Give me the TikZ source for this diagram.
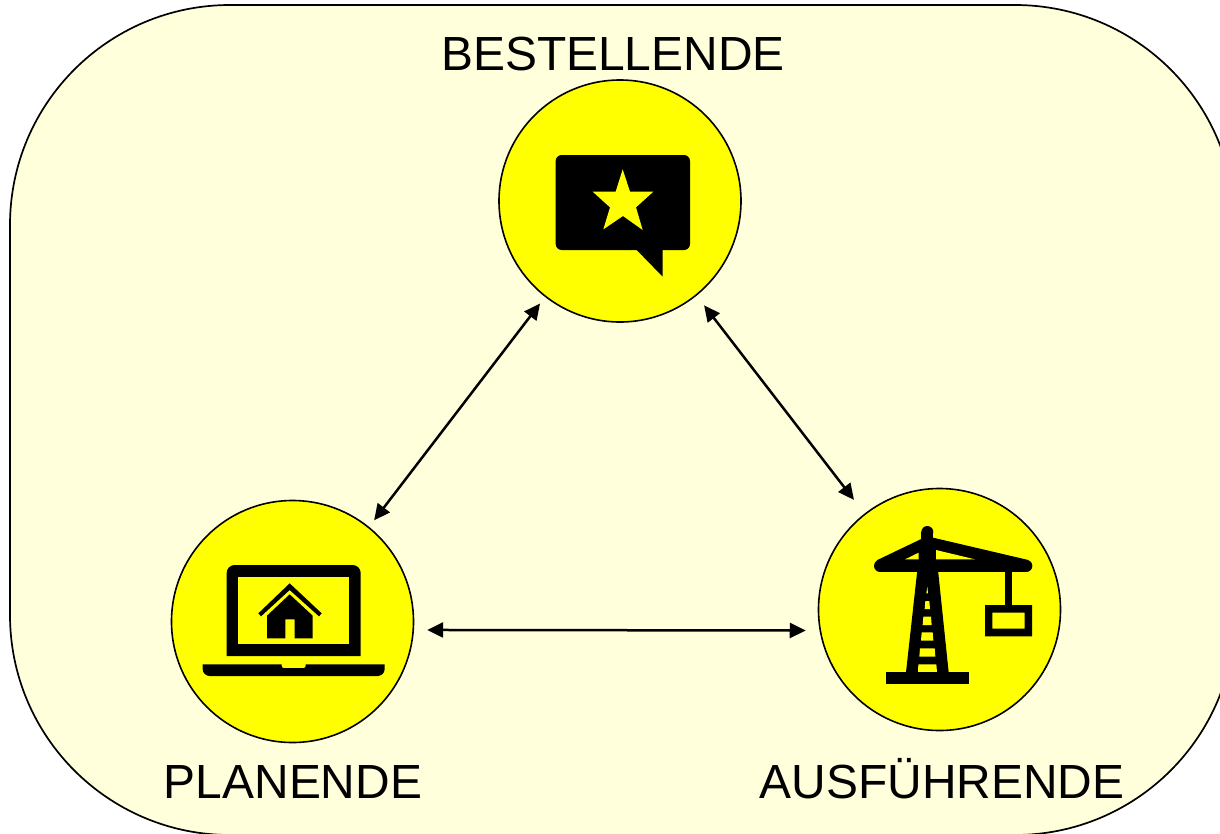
\documentclass[tikz,border=0pt]{standalone}
\usepackage{fontspec}
\setmainfont{Liberation Sans}
\usetikzlibrary{arrows.meta}
\definecolor{paleyellow}{HTML}{FFFFDC}
\definecolor{pureyellow}{HTML}{FFFF00}
\tikzset{
  rolecircle/.style={circle,draw=black,fill=pureyellow,line width=1.6pt,minimum size=242pt,inner sep=0pt,outer sep=0pt},
  rolelabel/.style={anchor=base,inner sep=0pt,font=\fontsize{47.9}{48}\selectfont,text=black},
  link/.style={line width=2.5pt,{Triangle[length=16pt,width=15pt]}-{Triangle[length=16pt,width=15pt]}},
  icon/.style={fill=black,draw=none},
  iconhole/.style={fill=pureyellow,draw=none}
}
\begin{document}
\begin{tikzpicture}[x=1pt,y=-1pt]
\useasboundingbox (0,0) rectangle (1220,833);
\fill[white] (0,0) rectangle (1220,833);
\draw[fill=paleyellow,line width=1.7pt,rounded corners=220pt] (10,5) rectangle (1235,835);

\node[rolecircle] (top) at (620,201) {};
\node[rolecircle] (left) at (292.5,621.5) {};
\node[rolecircle] (right) at (939.5,609.5) {};

\node[rolelabel] (ltop) at (613,70) {BESTELLENDE};
\node[rolelabel] (lleft) at (293,798) {PLANENDE};
\node[rolelabel] (lright) at (942,798) {AUSFÜHRENDE};

\draw[link,shorten <=9pt,shorten >=9pt] (top.232.8) -- (left.51.2);
\draw[link,shorten <=13pt,shorten >=18pt] (top.-51.3) -- (right.128.3);
\draw[link,shorten <=14pt,shorten >=14.6pt] (left.-4.1) -- (right.190.1);

% speech bubble
\begin{scope}[shift={(520,120)},scale=1/3]
\fill[icon,rounded corners=6pt] (107,105) -- (510,105) -- (510,390) -- (107,390) -- cycle;
\fill[icon] (340,380) -- (350,390) -- (428,470) -- (428,380) -- cycle;
\fill[iconhole] (308,148) -- (330,215) -- (400,215) -- (348,262) -- (368,330) -- (309,288) -- (250,328) -- (270,262) -- (218,215) -- (287,215) -- cycle;
\end{scope}

% laptop with house
\begin{scope}[shift={(190,550)},scale=1/3]
\fill[icon] (110,318) [rounded corners=8pt] -- (110,45) -- (512,45) [sharp corners] -- (512,318) -- cycle;
\fill[iconhole] (145,82) rectangle (477,283);
\fill[icon] (38,343) -- (275,343) [rounded corners=2pt] -- (275,354) -- (347,354) [sharp corners] -- (347,343) -- (584,343) [rounded corners=7pt] -- (584,378) -- (38,378) [sharp corners] -- cycle;
\fill[icon] (299,100) -- (395,190) -- (387,199) -- (299,120) -- (213,199) -- (205,190) -- cycle;
\fill[icon] (299,133) -- (368,197) -- (368,265) -- (314,265) -- (314,208) -- (286,208) -- (286,265) -- (231,265) -- (231,197) -- cycle;
\end{scope}

% crane
\begin{scope}[shift={(860,515)},scale=1/3]
\fill[icon] (202,51) circle[radius=18];
\fill[icon] (184,51) rectangle (220,170);
\draw[line width=12pt,line cap=round] (60,152) -- (499,152);
\fill[icon] (190,69) -- (50,136) -- (60,152) -- (190,152) -- cycle;
\fill[icon] (215,67) -- (505,135) -- (499,152) -- (215,152) -- cycle;
\fill[iconhole] (135,133) -- (176,113) -- (176,133) -- cycle;
\fill[iconhole] (228,105) -- (345,133) -- (228,133) -- cycle;
\fill[icon] (172,165) -- (234,165) -- (266,472) -- (138,472) -- cycle;
\fill[iconhole] (202,215) -- (204,235) -- (199,235) -- cycle;
\fill[iconhole] (196,258) -- (208,258) -- (210,282) -- (194,282) -- cycle;
\fill[iconhole] (190,305) -- (213,305) -- (215,330) -- (188,330) -- cycle;
\fill[iconhole] (185,352) -- (218,352) -- (220,377) -- (183,377) -- cycle;
\fill[iconhole] (180,400) -- (224,400) -- (226,425) -- (178,425) -- cycle;
\fill[iconhole] (175,448) -- (229,448) -- (231,472) -- (174,472) -- cycle;
\fill[icon] (78,472) rectangle (327,507);
\fill[icon] (434,165) rectangle (457,272);
\fill[icon,even odd rule] (375,270) rectangle (516,364) (397,293) rectangle (494,341);
\end{scope}
\end{tikzpicture}
\end{document}
